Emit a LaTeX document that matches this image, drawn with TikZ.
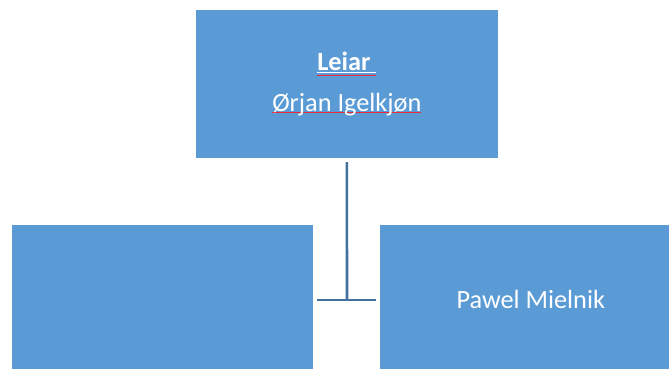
\documentclass[tikz,border=0pt]{standalone}
\usepackage{fontspec}
\setmainfont{Carlito}
\usepackage{tikz}
\usetikzlibrary{positioning}

\definecolor{boksblaa}{RGB}{91,155,213}
\definecolor{linjeblaa}{RGB}{65,113,156}
\definecolor{feilraud}{RGB}{235,40,60}
\newcommand{\stavefeil}[2][-2pt]{\setbox0\hbox{#2}\rlap{\color{feilraud}\rule[#1]{\wd0}{1.1pt}}\box0}

\begin{document}
\begin{tikzpicture}[x=1pt, y=1pt, on grid,
    boks/.style={fill=boksblaa, text=white, minimum width=301.5pt,
      minimum height=148.5pt, inner sep=0pt, align=center,
      font=\fontsize{26.3}{41}\selectfont},
    linje/.style={draw=linjeblaa, line width=2.6pt}]

       \useasboundingbox (0,0) rectangle (669,-369);
       \clip (0,0) rectangle (669,-369);

       \node[boks, minimum height=148.8pt] (Leiar) at (346.85,-84)
       {\stavefeil[-5.3pt]{\underline{\textbf{Leiar}\ }}\\\stavefeil{Ørjan Igelkjøn}};
       \node[boks, below left=215.4pt and 184.35pt of Leiar] (Boks_Venstre) {};
       \node[boks, below right=215.4pt and 183.95pt of Leiar] (Pawel_Mielnik)
       {Pawel Mielnik};

       \coordinate (Knute) at (347,-300);
       \draw[linje] ([yshift=-3.5pt]Leiar.south) -- (Knute);
       \draw[linje] ([xshift=3.5pt]Boks_Venstre.east |- Knute)
       -- ([xshift=-3.5pt]Pawel_Mielnik.west |- Knute);

\end{tikzpicture}
\end{document}
